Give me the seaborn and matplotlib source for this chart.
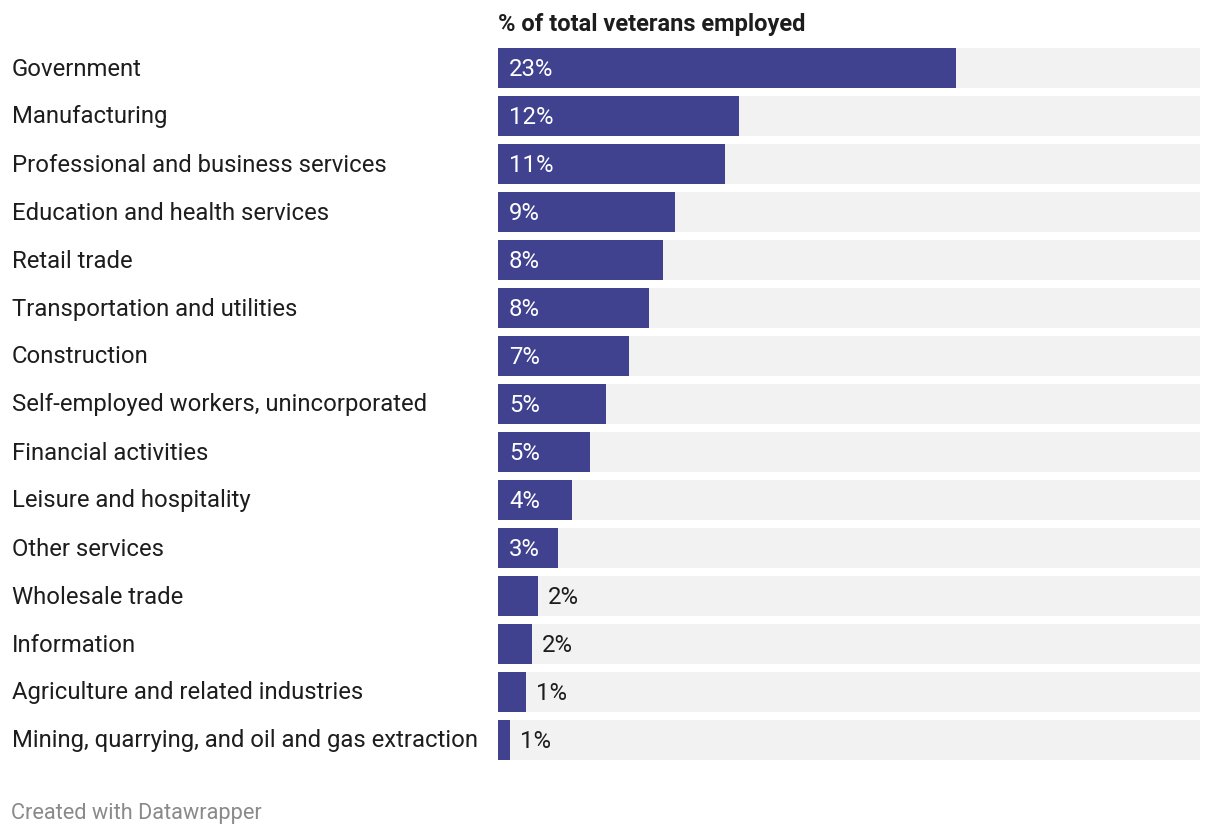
import matplotlib
matplotlib.use("Agg")
import matplotlib.pyplot as plt
import seaborn as sns
import pandas as pd

industries = [
    "Government",
    "Manufacturing",
    "Professional and business services",
    "Education and health services",
    "Retail trade",
    "Transportation and utilities",
    "Construction",
    "Self-employed workers, unincorporated",
    "Financial activities",
    "Leisure and hospitality",
    "Other services",
    "Wholesale trade",
    "Information",
    "Agriculture and related industries",
    "Mining, quarrying, and oil and gas extraction",
]
share_pct = [23.0, 12.1, 11.4, 8.9, 8.3, 7.6, 6.6, 5.4, 4.6, 3.7, 3.0, 2.0, 1.7, 1.4, 0.6]
value_labels = ["23%", "12%", "11%", "9%", "8%", "8%", "7%", "5%", "5%", "4%", "3%", "2%", "2%", "1%", "1%"]
axis_max = 35.25

title = "% of total veterans employed"
footer = "Created with Datawrapper"

sns.set_theme(style="white")
plt.rcParams["font.family"] = ["Roboto", "DejaVu Sans"]

df = pd.DataFrame({"industry": industries, "share": share_pct,
                   "full": [axis_max] * len(industries)})

W, H = 1220, 836
fig = plt.figure(figsize=(W / 100, H / 100), dpi=100)
ax = fig.add_axes([498 / W, 1 - 764 / H, 702 / W, 720 / H])

bar_h = 40 / 48
sns.barplot(data=df, y="industry", x="full", orient="h", color="#f2f2f2",
            width=bar_h, ax=ax, saturation=1, linewidth=0)
sns.barplot(data=df, y="industry", x="share", orient="h", color="#404290",
            width=bar_h, ax=ax, saturation=1, linewidth=0)

ax.set_xlim(0, axis_max)
ax.set_ylim(len(industries) - 0.5, -0.5)
ax.set_xlabel("")
ax.set_ylabel("")
ax.set_xticks([])
ax.set_yticks([])
for s in ax.spines.values():
    s.set_visible(False)

px = axis_max / 702.0
fs = 17.2
for i, (name, v, lab) in enumerate(zip(industries, share_pct, value_labels)):
    fig.text(12 / W, 1 - (69 + 48 * i) / H, name, fontsize=fs, color="#1d1d1d",
             ha="left", va="center")
    if v >= 2.5:
        ax.text(11 * px, i + 1 / 48, lab, color="white", fontsize=fs, ha="left", va="center")
    else:
        ax.text(v + 10 * px, i + 1 / 48, lab, color="#1d1d1d", fontsize=fs, ha="left", va="center")

fig.text(498 / W, 1 - 24 / H, title, fontsize=17, fontweight="bold", color="#1d1d1d",
         ha="left", va="center")
fig.text(11 / W, 1 - 813 / H, footer, fontsize=15.7, color="#8a8a8a", ha="left", va="center")

fig.savefig("out.png", dpi=100, facecolor="white")
